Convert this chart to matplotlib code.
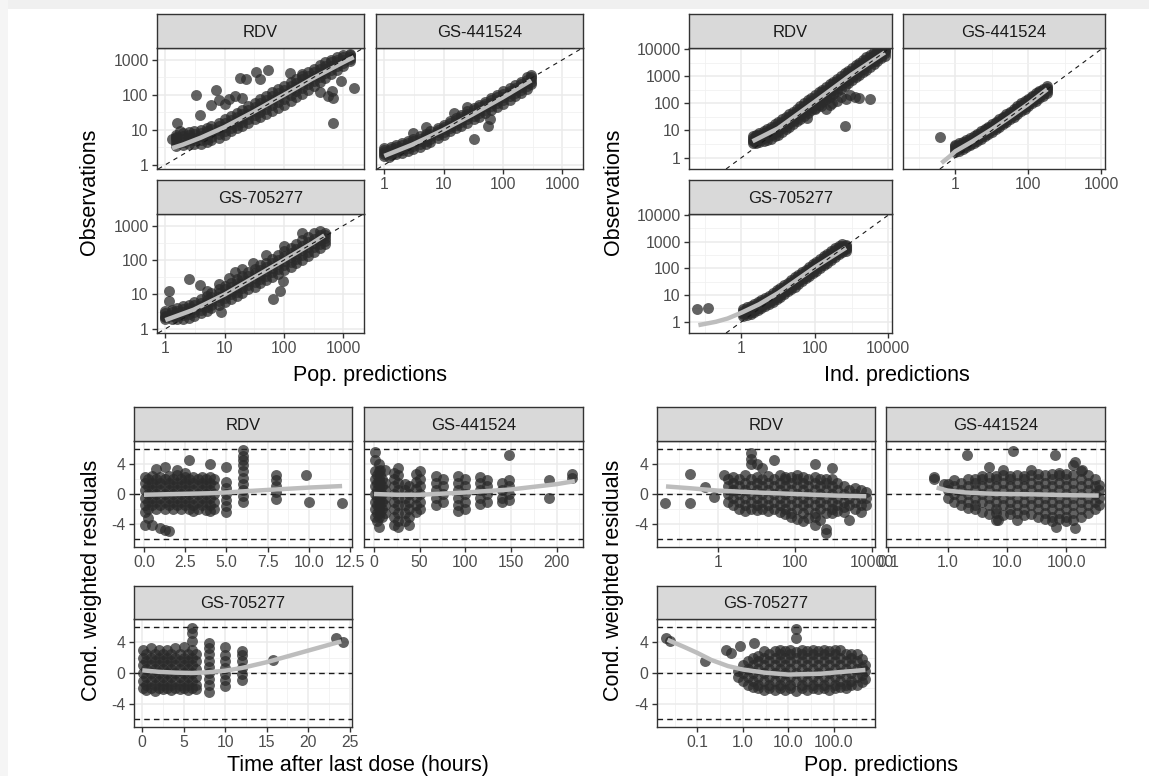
import matplotlib
matplotlib.use("Agg")
import matplotlib.pyplot as plt
from matplotlib.ticker import NullFormatter
from matplotlib.patches import Rectangle

plt.rcParams['font.family'] = ['Liberation Sans', 'DejaVu Sans']

# ---------------- facet titles / axis titles ----------------
facets = ["RDV", "GS-441524", "GS-705277"]
title_obs = "Observations"
title_cwres = "Cond. weighted residuals"
title_pred = "Pop. predictions"
title_ipred = "Ind. predictions"
title_time = "Time after last dose (hours)"

# ---------------- top-left: Observations vs Pop. predictions ----------------
A1_x = [1.5, 2, 2.5, 3, 4, 5, 6, 8, 10, 13, 16, 20, 25, 32, 40, 50, 63, 80, 100, 130, 160, 200, 250, 320, 400, 500, 630, 800, 1000, 1300]
A1_lo = [3.5, 3.8, 4, 4, 4, 4.5, 5, 6, 7, 9, 11, 13, 16, 20, 24, 28, 34, 42, 52, 66, 85, 105, 140, 180, 240, 310, 400, 500, 650, 900]
A1_q1 = [4.2, 4.5, 5, 5, 5, 5.6, 6.4, 7.8, 9.2, 11.5, 14, 17, 21, 26, 33, 40, 50, 62, 78, 100, 125, 160, 200, 250, 320, 410, 520, 650, 800, 1050]
A1_mid = [5, 5.5, 6, 6, 6.5, 7, 8, 10, 12, 15, 18, 22, 28, 35, 44, 55, 70, 85, 105, 135, 165, 210, 270, 340, 430, 540, 680, 850, 1000, 1200]
A1_q3 = [6, 6.7, 7.2, 7.5, 8, 9, 10.5, 13, 15.5, 19.5, 23, 29, 37, 46, 58, 72, 92, 112, 140, 175, 215, 275, 350, 440, 550, 680, 850, 1000, 1200, 1350]
A1_hi = [7, 8, 8.5, 9, 10, 11, 13, 16, 20, 25, 30, 38, 48, 60, 75, 95, 120, 150, 180, 230, 280, 350, 440, 550, 700, 850, 1000, 1200, 1400, 1500]
A1_ox = [1.3, 1.5, 1.6, 1.8, 3.3, 3.8, 6, 7.2, 8, 10, 12, 15, 20, 18, 23, 34, 40, 54, 126, 200, 400, 550, 680, 680, 1500, 650, 900]
A1_oy = [5.5, 6.4, 15.5, 9, 100, 27, 50, 140, 70, 55, 75, 90, 80, 300, 280, 460, 280, 500, 415, 400, 120, 90, 80, 15.5, 155, 130, 250]
A1_fx = [1.3, 2, 4, 10, 30, 100, 300, 1000, 1500]
A1_fy = [3, 3.8, 6, 12, 32, 100, 290, 850, 1200]

A2_x = [1, 1.3, 1.6, 2, 2.5, 3, 4, 5, 6, 8, 10, 13, 16, 20, 25, 32, 40, 50, 63, 80, 100, 130, 160, 200, 250, 300]
A2_lo = [1.8, 1.9, 2, 2.2, 2.5, 2.8, 3.3, 4, 4.6, 5.8, 7, 9, 11, 13, 16, 20, 24, 30, 37, 45, 55, 70, 90, 110, 150, 200]
A2_q1 = [2.05, 2.2, 2.4, 2.6, 3, 3.4, 4, 4.8, 5.6, 7.1, 8.6, 11, 13.5, 16.5, 20, 25, 31, 38, 47, 58, 70, 90, 112, 140, 185, 240]
A2_mid = [2.3, 2.5, 2.8, 3.1, 3.6, 4, 4.8, 5.8, 6.8, 8.5, 10.5, 13, 16, 20, 25, 31, 38, 47, 58, 72, 88, 110, 135, 170, 220, 280]
A2_q3 = [2.6, 2.9, 3.2, 3.6, 4.2, 4.7, 5.6, 6.7, 7.8, 10, 12, 15.5, 19, 23.5, 29, 36, 45, 55, 69, 86, 105, 130, 160, 205, 270, 330]
A2_hi = [3, 3.3, 3.6, 4.1, 4.8, 5.5, 6.5, 7.8, 9, 11.5, 14, 18, 22, 27, 34, 42, 52, 64, 80, 100, 125, 155, 190, 240, 320, 380]
A2_ox = [32, 57, 15, 25, 5, 3, 1.2, 60]
A2_oy = [5.4, 12.5, 30, 45, 12, 8, 1.7, 20]
A2_fx = [1, 3, 10, 30, 100, 300]
A2_fy = [1.8, 3.8, 10, 27, 85, 260]

A3_x = [1, 1.3, 1.6, 2, 2.5, 3, 4, 5, 6, 8, 10, 13, 16, 20, 25, 32, 40, 50, 63, 80, 100, 130, 160, 200, 250, 320, 400, 500]
A3_lo = [1.9, 2, 2, 2, 2.1, 2.3, 2.8, 3.3, 4, 5, 6, 7.5, 9, 11, 14, 17, 21, 26, 33, 40, 50, 65, 80, 100, 130, 170, 230, 300]
A3_q1 = [2.15, 2.3, 2.4, 2.5, 2.7, 3, 3.5, 4.3, 5.1, 6.5, 8, 10, 12, 15, 19, 23, 28, 35, 44, 55, 70, 88, 110, 140, 175, 235, 300, 370]
A3_mid = [2.4, 2.6, 2.8, 3, 3.4, 3.8, 4.5, 5.5, 6.5, 8.5, 10.5, 13, 16, 20, 25, 31, 38, 48, 60, 75, 95, 120, 150, 190, 240, 310, 380, 450]
A3_q3 = [2.8, 3.1, 3.4, 3.7, 4.1, 4.8, 5.8, 7, 8.5, 11, 14, 17, 21, 27, 34, 42, 52, 65, 82, 102, 130, 165, 210, 265, 340, 420, 520, 520]
A3_hi = [3.2, 3.6, 4, 4.5, 5, 6, 7.5, 9, 11, 14, 18, 22, 28, 35, 45, 55, 70, 85, 110, 140, 180, 230, 300, 380, 480, 600, 700, 600]
A3_ox = [1.17, 1.17, 2.55, 3.8, 66, 85, 98, 8.8, 5, 15, 8, 12, 20, 30, 50, 100, 200]
A3_oy = [12.4, 6.4, 28, 19, 7.2, 12.5, 24, 3, 13, 45, 20, 30, 55, 80, 140, 260, 600]
A3_fx = [1, 3, 10, 30, 100, 300, 480]
A3_fy = [1.8, 3.6, 10, 30, 100, 310, 520]

# ---------------- top-right: Observations vs Ind. predictions ----------------
B1_x = [2, 2.5, 3, 4, 5, 6.5, 8, 10, 13, 16, 20, 25, 32, 40, 50, 65, 80, 100, 130, 160, 200, 250, 320, 400, 500, 650, 800, 1000, 1300, 1600, 2000, 2500, 3200, 4000, 5000, 6500, 8000]
B1_lo = [3.5, 3.5, 3.8, 4, 4.5, 5, 6, 7, 9, 11, 14, 17, 22, 27, 34, 44, 55, 65, 90, 110, 140, 170, 220, 280, 350, 450, 550, 700, 900, 1100, 1400, 1700, 2200, 2800, 3500, 4500, 5500]
B1_q1 = [4, 4.2, 4.6, 5.1, 5.8, 6.7, 8.1, 9.5, 12, 15, 19, 23, 30, 37, 46, 60, 74, 88, 120, 150, 190, 230, 300, 375, 470, 600, 740, 920, 1200, 1500, 1900, 2300, 3000, 3700, 4700, 5800, 7000]
B1_mid = [4.5, 5, 5.5, 6.5, 7.5, 9, 11, 13, 16, 20, 25, 31, 40, 50, 62, 80, 100, 120, 160, 200, 250, 310, 400, 500, 620, 800, 1000, 1200, 1600, 2000, 2500, 3100, 4000, 5000, 6200, 7500, 8500]
B1_q3 = [5.2, 6, 6.7, 7.9, 9.1, 11.2, 13.7, 16, 20, 25, 32, 39, 50, 63, 79, 102, 127, 155, 205, 255, 320, 395, 500, 640, 790, 1020, 1270, 1550, 2050, 2550, 3200, 4000, 5000, 6200, 7500, 8700, 9300]
B1_hi = [6, 7, 8, 9.5, 11, 14, 17, 20, 26, 32, 40, 50, 63, 80, 100, 130, 160, 200, 260, 320, 400, 500, 630, 800, 1000, 1300, 1600, 2000, 2600, 3200, 4000, 5000, 6300, 7500, 9000, 10000, 10000]
B1_ox = [100, 150, 200, 300, 400, 500, 700, 900, 1200, 680, 1600, 3100, 250, 60]
B1_oy = [60, 80, 60, 100, 120, 170, 150, 200, 170, 14.5, 154, 140, 90, 30]
B1_fx = [2, 10, 100, 1000, 8000]
B1_fy = [4, 12, 115, 1150, 7500]

B2_x = [1, 1.3, 1.6, 2, 2.5, 3.2, 4, 5, 6.5, 8, 10, 13, 16, 20, 25, 32, 40, 50, 65, 80, 100, 130, 160, 200, 250, 320]
B2_lo = [1.6, 1.8, 2.1, 2.4, 2.8, 3.4, 4.2, 5, 6.2, 7.5, 9, 11, 14, 17, 21, 26, 32, 40, 52, 63, 78, 100, 125, 155, 190, 250]
B2_q1 = [1.9, 2.1, 2.4, 2.8, 3.3, 4, 4.9, 5.8, 7.3, 8.7, 10.6, 13.3, 16.3, 20, 25, 31, 38.5, 48, 62, 75, 94, 120, 150, 185, 230, 290]
B2_mid = [2.2, 2.5, 2.8, 3.2, 3.8, 4.6, 5.6, 6.8, 8.5, 10, 12.5, 16, 19, 24, 30, 38, 46, 57, 74, 90, 112, 145, 180, 220, 270, 340]
B2_q3 = [2.6, 2.9, 3.3, 3.8, 4.5, 5.4, 6.6, 8, 10, 12, 14.6, 18.5, 22.5, 28, 35, 44, 54, 67, 87, 106, 131, 167, 207, 255, 310, 380]
B2_hi = [3, 3.4, 3.8, 4.4, 5.2, 6.3, 7.6, 9.2, 11.5, 14, 17, 21, 26, 32, 40, 50, 62, 78, 100, 122, 150, 190, 235, 290, 350, 420]
B2_ox = [0.38]
B2_oy = [5.8]
B2_fx = [0.42, 0.7, 1, 3, 10, 30, 100, 330]
B2_fy = [0.63, 1.1, 1.7, 4, 11, 30, 95, 330]

B3_x = [1.1, 1.4, 1.8, 2.2, 2.8, 3.5, 4.5, 5.6, 7, 9, 11, 14, 18, 22, 28, 35, 45, 56, 70, 90, 110, 140, 180, 220, 280, 350, 450, 560, 700]
B3_lo = [1.6, 1.8, 2, 2.3, 2.7, 3.2, 3.8, 4.5, 5.5, 7, 8.5, 11, 14, 17, 21, 26, 33, 42, 52, 66, 82, 105, 135, 165, 210, 270, 340, 400, 450]
B3_q1 = [1.9, 2.1, 2.4, 2.7, 3.2, 3.8, 4.6, 5.5, 6.7, 8.6, 10.5, 13.3, 16.8, 21, 26, 33, 41, 52, 64, 82, 101, 128, 165, 200, 255, 330, 410, 480, 520]
B3_mid = [2.2, 2.5, 2.8, 3.2, 3.8, 4.5, 5.5, 6.7, 8.2, 10.5, 13, 16, 20, 25, 32, 40, 50, 63, 78, 100, 123, 155, 200, 245, 310, 390, 480, 560, 600]
B3_q3 = [2.6, 3, 3.4, 3.9, 4.6, 5.4, 6.6, 8, 10, 12.7, 15.5, 19.3, 24, 30, 38, 48, 60, 75, 94, 120, 150, 188, 240, 300, 380, 480, 590, 680, 680]
B3_hi = [3.1, 3.5, 4, 4.6, 5.4, 6.4, 7.8, 9.5, 12, 15, 18.5, 23, 29, 36, 46, 57, 72, 90, 112, 145, 180, 225, 290, 360, 450, 570, 700, 800, 750]
B3_ox = [0.06, 0.12]
B3_oy = [2.9, 3.3]
B3_fx = [0.067, 0.2, 0.42, 1, 3, 10, 100, 700]
B3_fy = [0.75, 1.0, 1.33, 2.2, 4.5, 12, 110, 600]

# ---------------- bottom-left: CWRES vs time ----------------
C1_t = [0.05, 0.25, 0.5, 0.75, 1.0, 1.25, 1.5, 1.75, 2.0, 2.25, 2.5, 2.75, 3.0, 3.25, 3.5, 3.75, 4.0, 4.25, 5.0, 6.0, 8.0, 9.8, 10.0, 12.0]
C1_r = [
    [-4.1, -2.4, -1.5, -0.5, 0.5, 1.5, 2.2],
    [-3.2, -2, -1, 0, 1, 2],
    [-4.1, -1.5, -0.5, 0.5, 1.5, 2.4],
    [-2, -1, 0, 1, 2, 3.3],
    [-4.5, -1.5, -0.5, 0.5, 1.5, 2.3],
    [-4.7, -2, -1, 0, 1, 2, 3.6],
    [-4.9, -1.5, -0.5, 0.5, 1.5, 2.4],
    [-2, -1, 0, 1, 2],
    [-1.5, -0.5, 0.5, 1.5, 2.5, 3.2],
    [-2, -1, 0, 1, 2],
    [-1.5, -0.5, 0.5, 1.5, 2.3, 2.8],
    [-2, -1, 0, 1, 2, 4.5],
    [-2.2, -1.5, -0.5, 0.5, 1.5, 2.3],
    [-2, -1, 0, 1, 2],
    [-1.5, -0.5, 0.5, 1.5, 2.2],
    [-2.1, -1, 0, 1, 2],
    [-2.3, -1.5, -0.5, 0.5, 1.5, 2.2, 3.9],
    [-2, -1, 0, 1, 2],
    [-2.4, -1.6, -0.8, 0, 0.8, 1.6, 3.6],
    [-1.1, -0.3, 0.5, 1.3, 2.1, 3.0, 3.8, 4.5, 5.0, 5.8],
    [-0.6, 0.2, 1.0, 1.8, 2.5],
    [2.5],
    [-1.1],
    [-1.2],
]
C1_fx = [0, 1, 2, 3, 4, 5, 6, 8, 10, 12]
C1_fy = [-0.1, -0.05, 0, 0.05, 0.1, 0.2, 0.35, 0.6, 0.85, 1.05]

C2_t = [1, 3, 5, 7, 9, 12, 22, 26, 34, 38, 46, 50, 68, 76, 92, 100, 116, 124, 140, 148, 192, 217]
C2_r = [
    [-3, -2, -1, 0, 1, 2, 3, 4.5, 5.5],
    [-3.5, -2.5, -1.5, -0.5, 0.5, 1.5, 2.5],
    [-4.3, -3, -2, -1, 0, 1, 2, 3, 4],
    [-2.5, -1.5, -0.5, 0.5, 1.5, 2.5, 3.2],
    [-3, -2, -1, 0, 1, 2],
    [-2.5, -1.5, -0.5, 0.5, 1.5, 3.2],
    [-4.1, -3, -2, -1, 0, 1, 2, 2.8],
    [-4.3, -3.5, -2.5, -1.5, -0.5, 0.5, 1.5, 2.5, 3.4],
    [-3.5, -2.5, -1.5, -0.5, 0.5, 1.3],
    [-4.1, -3, -2, -1, 0, 1],
    [-2.4, -1.4, -0.4, 0.6, 1.6, 2.6],
    [-2, -1, 0, 1, 2, 3],
    [-1.5, -0.5, 0.5, 1.5, 2.4],
    [-1, 0, 1, 2],
    [-2.2, -1.5, -0.5, 0.5, 1.5, 2.4],
    [-2, -1, 0, 1, 2],
    [-1.3, -0.5, 0.5, 1.5, 2.2],
    [-1, 0, 1, 1.9],
    [-1.1, -0.5, 0.5, 1.5],
    [-0.8, 0, 1, 1.9, 5.2],
    [-0.5, 1.8],
    [2.6, 2.1],
]
C2_fx = [0, 25, 50, 100, 150, 200, 220]
C2_fy = [0, -0.1, -0.1, 0.2, 0.6, 1.3, 1.7]

C3_t = [0.1, 0.5, 1, 1.5, 2, 2.5, 3, 3.5, 4, 4.5, 5, 5.5, 6, 6.5, 8, 10, 12, 15.8, 23.4, 24.2]
C3_r = [
    [-2, -1, 0, 1, 2, 3],
    [-2.2, -1.5, -0.5, 0.5, 1.5, 2.5],
    [-2, -1, 0, 1, 2, 3.2],
    [-2.3, -1.5, -0.5, 0.5, 1.5, 2.5],
    [-2, -1, 0, 1, 2, 3],
    [-2.1, -1.5, -0.5, 0.5, 1.5, 2.5],
    [-2, -1, 0, 1, 2, 3],
    [-2.2, -1.5, -0.5, 0.5, 1.5, 2.5],
    [-2, -1, 0, 1, 2, 3.2],
    [-2.1, -1.5, -0.5, 0.5, 1.5, 2.5],
    [-2, -1, 0, 1, 2, 3.4],
    [-2.2, -1.5, -0.5, 0.5, 1.5, 2.5],
    [-2, -1, 0, 1, 2, 3, 4.1, 5.2, 5.8],
    [-2.1, -1.5, -0.5, 0.5, 1.5, 2.5],
    [-2.4, -1.6, -0.8, 0, 0.8, 1.6, 2.4, 3.2, 3.9],
    [-1.7, -0.9, -0.1, 0.7, 1.5, 2.3, 3.4],
    [-0.9, -0.1, 0.7, 1.5, 2.3, 2.8],
    [1.7],
    [4.5],
    [4.0],
]
C3_fx = [0, 2, 4, 6, 8, 10, 12, 15, 20, 24]
C3_fy = [0.35, 0.15, 0.05, 0, 0.1, 0.3, 0.65, 1.4, 2.9, 4.1]

# ---------------- bottom-right: CWRES vs Pop. predictions ----------------
D1_x = [1.8, 2.5, 3.5, 5, 7, 10, 14, 20, 28, 40, 56, 80, 110, 160, 220, 320, 450, 630, 900, 1250, 1800, 2500, 3500, 5000, 7000]
D1_r = [
    [-1, 0, 1, 2],
    [-1.5, -0.5, 0.5, 1.5, 2.2],
    [-2, -1, 0, 1, 2],
    [-2.2, -1.5, -0.5, 0.5, 1.5, 2.5],
    [-2, -1, 0, 1, 2, 3.9, 4.6, 5.4],
    [-2.1, -1.5, -0.5, 0.5, 1.5, 2.3, 3.9],
    [-2, -1, 0, 1, 2, 3.4],
    [-2.2, -1.5, -0.5, 0.5, 1.5, 2.4],
    [-2, -1, 0, 1, 2, 4.5],
    [-2.4, -1.5, -0.5, 0.5, 1.5, 2.5],
    [-2.6, -2, -1, 0, 1, 2, 2.3],
    [-3, -2.5, -1.5, -0.5, 0.5, 1.5, 2.2],
    [-3.3, -2, -1, 0, 1, 2, 2.5],
    [-3.5, -2.5, -1.5, -0.5, 0.5, 1.5, 2.3],
    [-3.2, -2, -1, 0, 1, 2],
    [-4.1, -3, -2.5, -1.5, -0.5, 0.5, 1.5, 2.2, 3.9],
    [-3.4, -2, -1, 0, 1, 2],
    [-5.2, -4.6, -2.5, -1.5, -0.5, 0.5, 1.5, 2],
    [-2.5, -2, -1, 0, 1, 2, 3.4],
    [-2.2, -1.5, -0.5, 0.5, 1.5],
    [-2.4, -1.7, -1, 0, 1],
    [-3.4, -1.5, -0.5, 0.5],
    [-2, -1, 0, 0.8],
    [-2.4, -1.5, -0.5, 0.5],
    [-1.5, -0.5, 0.3],
]
D1_ox = [0.042, 0.19, 0.19, 0.47, 0.78, 1.45]
D1_oy = [-1.16, 2.58, -1.16, 0.86, -0.43, 2.45]
D1_fx = [0.045, 0.2, 1, 10, 100, 1000, 7000]
D1_fy = [1.0, 0.75, 0.45, 0.2, 0.0, -0.2, -0.3]

D2_x = [1.0, 1.3, 1.7, 2.2, 2.9, 3.8, 5, 6.5, 8.5, 11, 14.5, 19, 25, 33, 44, 58, 76, 100, 130, 175, 230, 300, 350]
D2_r = [
    [-0.5, 0.5, 1.3],
    [-1, 0, 1, 1.8],
    [-1.5, -0.5, 0.5, 1.5],
    [-1.8, -1, 0, 1, 2.0],
    [-2, -1.5, -0.5, 0.5, 1.5, 2],
    [-2.4, -1, 0, 1, 2, 2.4],
    [-2.6, -1.5, -0.5, 0.5, 1.5, 2.3, 3.6],
    [-3.4, -2.5, -2, -1, 0, 1, 2, 2.4],
    [-2.8, -1.5, -0.5, 0.5, 1.5, 2.5, 3.2],
    [-2.6, -2, -1, 0, 1, 2, 2.4],
    [-3.4, -2.5, -1.5, -0.5, 0.5, 1.5, 2.5],
    [-2.8, -2, -1, 0, 1, 2, 2.4],
    [-2.6, -1.5, -0.5, 0.5, 1.5, 2.5, 3.2],
    [-3, -2, -1, 0, 1, 2, 2.7],
    [-3.3, -2.5, -1.5, -0.5, 0.5, 1.5, 2.5],
    [-3.5, -3, -2, -1, 0, 1, 2, 2.7],
    [-3.3, -2.5, -1.5, -0.5, 0.5, 1.5, 2.5, 2.8],
    [-3.6, -3, -2, -1, 0, 1, 2, 2.6],
    [-3.4, -2.5, -1.5, -0.5, 0.5, 1.5, 2.5, 3.8],
    [-3, -2, -1, 0, 1, 2, 3],
    [-2.5, -1.5, -0.5, 0.5, 1.5, 2.5],
    [-2, -1, 0, 1, 2],
    [-1.5, -0.5, 0.5, 1.2],
]
D2_ox = [0.59, 0.59, 0.88, 2.1, 12.6, 63, 140, 183, 67, 140, 6.9]
D2_oy = [2.3, 2.0, 1.3, 5.2, 5.7, 5.2, 4.2, 3.2, -4.3, -4.5, -3.4]
D2_fx = [0.65, 1, 2, 5, 10, 30, 100, 300, 350]
D2_fy = [0.85, 0.45, 0.2, 0.05, 0, -0.05, -0.15, -0.2, -0.2]

D3_x = [0.8, 1.0, 1.3, 1.7, 2.2, 2.9, 3.8, 5, 6.5, 8.5, 11, 15, 20, 26, 35, 46, 60, 80, 105, 140, 185, 245, 320, 420, 500]
D3_r = [
    [-0.5, 0.3],
    [-1, 0, 1],
    [-1.5, -0.5, 0.5, 1.5],
    [-1.8, -1, 0, 1, 2],
    [-2, -1.5, -0.5, 0.5, 1.5, 2.2],
    [-2.2, -1, 0, 1, 2, 2.8],
    [-2, -1.5, -0.5, 0.5, 1.5, 2.5],
    [-2.2, -1, 0, 1, 2, 2.8],
    [-2, -1.5, -0.5, 0.5, 1.5, 2.5, 3],
    [-2.2, -1, 0, 1, 2, 2.8],
    [-2, -1.5, -0.5, 0.5, 1.5, 2.5, 3],
    [-2.3, -1, 0, 1, 2, 2.7, 4.5, 5.7],
    [-2, -1.5, -0.5, 0.5, 1.5, 2.5, 3],
    [-2.2, -1, 0, 1, 2, 2.8],
    [-2, -1.5, -0.5, 0.5, 1.5, 2.5, 3],
    [-2.1, -1, 0, 1, 2, 2.9],
    [-2, -1.5, -0.5, 0.5, 1.5, 2.5, 3],
    [-2.2, -1, 0, 1, 2, 2.8],
    [-2, -1.5, -0.5, 0.5, 1.5, 2.5, 3],
    [-1.8, -1, 0, 1, 2, 3],
    [-2, -1.5, -0.5, 0.5, 1.5, 2.5],
    [-1.6, -1, 0, 1, 2, 2.4],
    [-1.5, -0.5, 0.5, 1.5, 2.5],
    [-1.2, -0.2, 0.8, 1.8],
    [-0.8, 0.2, 1.0],
]
D3_ox = [0.02, 0.025, 0.15, 0.43, 0.56, 0.87, 1.75]
D3_oy = [4.5, 4.2, 1.5, 3.0, 2.6, 3.5, 3.9]
D3_fx = [0.022, 0.05, 0.1, 0.2, 0.47, 1, 3, 10, 50, 200, 500]
D3_fy = [4.3, 3.4, 2.6, 1.7, 0.9, 0.45, 0.05, -0.2, -0.1, 0.2, 0.4]

# ---------------- tick breaks / labels ----------------
obs_ticks = [1, 10, 100, 1000]
obs_labels = ["1", "10", "100", "1000"]
obs_minor = [10 ** 0.5, 10 ** 1.5, 10 ** 2.5]
ind_xticks = [1, 100, 10000]
ind_xlabels = ["1", "100", "10000"]
ind_xlabels_gs441 = ["1", "100", "1000"]
ind_xminor = [0.1, 10, 1000]
ind_yticks = [1, 10, 100, 1000, 10000]
ind_ylabels = ["1", "10", "100", "1000", "10000"]
ind_yminor = [10 ** 0.5, 10 ** 1.5, 10 ** 2.5, 10 ** 3.5]
res_ticks = [-4, 0, 4]
res_labels = ["-4", "0", "4"]
res_minor = [-6, -2, 2, 6]
res_ref = [-6, 0, 6]
t1_ticks = [0, 2.5, 5, 7.5, 10, 12.5]
t1_labels = ["0.0", "2.5", "5.0", "7.5", "10.0", "12.5"]
t1_minor = [1.25, 3.75, 6.25, 8.75, 11.25]
t2_ticks = [0, 50, 100, 150, 200]
t2_labels = ["0", "50", "100", "150", "200"]
t2_minor = [25, 75, 125, 175, 225]
t3_ticks = [0, 5, 10, 15, 20, 25]
t3_labels = ["0", "5", "10", "15", "20", "25"]
t3_minor = [2.5, 7.5, 12.5, 17.5, 22.5]
p1_ticks = [1, 100, 10000]
p1_labels = ["1", "100", "10000"]
p1_minor = [0.1, 10, 1000]
p2_ticks = [0.1, 1, 10, 100]
p2_labels = ["0.1", "1.0", "10.0", "100.0"]
p2_minor = [10 ** -0.5, 10 ** 0.5, 10 ** 1.5, 10 ** 2.5]
p3_minor = [10 ** -1.5, 10 ** -0.5, 10 ** 0.5, 10 ** 1.5, 10 ** 2.5]

# ---------------- figure & layout (pixels) ----------------
W, H = 1149, 776
fig = plt.figure(figsize=(W / 100, H / 100), dpi=100)
fig.patch.set_facecolor("white")
fig.patches.append(Rectangle((0, 1 - 9 / H), 1, 9 / H, transform=fig.transFigure,
                             facecolor="#F0F0F0", edgecolor="none", zorder=0))
fig.patches.append(Rectangle((0, 0), 8 / W, 1, transform=fig.transFigure,
                             facecolor="#F5F5F5", edgecolor="none", zorder=0))

TICK_C = "#4D4D4D"
BORDER_C = "#333333"
PT = dict(s=62, c="#2b2b2b", alpha=0.74, linewidths=0, zorder=2)
FIT = dict(color="#BDBDBD", lw=3.2, solid_capstyle="butt", zorder=3)


def rect(x0, y0, x1, y1):
    return [x0 / W, 1 - y1 / H, (x1 - x0) / W, (y1 - y0) / H]


def panel(cols, rows, title, xlim, ylim, xlog, ylog, xt, xtl, xm, yt, ytl, ym, showx, showy):
    (sx0, sx1) = cols
    (st, sb), (pt, pb) = rows
    ax = fig.add_axes(rect(sx0, pt, sx1, pb))
    if xlog:
        ax.set_xscale("log")
    if ylog:
        ax.set_yscale("log")
    ax.set_xlim(xlim)
    ax.set_ylim(ylim)
    ax.set_xticks(xt)
    ax.set_xticks(xm, minor=True)
    ax.set_yticks(yt)
    ax.set_yticks(ym, minor=True)
    ax.xaxis.set_minor_formatter(NullFormatter())
    ax.yaxis.set_minor_formatter(NullFormatter())
    ax.grid(True, which="major", color="#EBEBEB", lw=1.1)
    ax.grid(True, which="minor", color="#F1F1F1", lw=0.6)
    ax.set_axisbelow(True)
    ax.tick_params(which="minor", length=0)
    ax.tick_params(which="major", direction="out", length=3.8, width=1.0, color=BORDER_C,
                   labelcolor=TICK_C, labelsize=11.3, pad=2.2)
    if showx:
        ax.set_xticklabels(xtl)
    else:
        ax.tick_params(axis="x", which="major", length=0, labelbottom=False)
    if showy:
        ax.set_yticklabels(ytl)
    else:
        ax.tick_params(axis="y", which="major", length=0, labelleft=False)
    for sp in ax.spines.values():
        sp.set_color(BORDER_C)
        sp.set_linewidth(1.0)
        sp.set_zorder(6)
    sax = fig.add_axes(rect(sx0, st, sx1, sb))
    sax.set_facecolor("#D9D9D9")
    sax.set_xticks([])
    sax.set_yticks([])
    for sp in sax.spines.values():
        sp.set_color(BORDER_C)
        sp.set_linewidth(1.0)
    sax.text(0.5, 0.47, title, ha="center", va="center", fontsize=12, color="#1A1A1A",
             transform=sax.transAxes)
    return ax


def band(ax, x, levels, ox, oy, fx, fy):
    xs, ys = [], []
    for lev in levels:
        xs += x
        ys += lev
    ax.scatter(xs, ys, **PT)
    ax.scatter(ox, oy, **PT)
    ax.plot(fx, fy, **FIT)
    ax.axline((1, 1), (10, 10), color="#1A1A1A", lw=0.8, ls=(0, (4, 4)), zorder=4)


def columns(ax, t, r, ox, oy, fx, fy):
    xs, ys = [], []
    for ti, ri in zip(t, r):
        xs += [ti] * len(ri)
        ys += ri
    for v in res_ref:
        ax.axhline(v, color="#1A1A1A", lw=1.0, ls=(0, (4, 3)), zorder=1.5)
    ax.scatter(xs, ys, **PT)
    if ox:
        ax.scatter(ox, oy, **PT)
    ax.plot(fx, fy, **FIT)


TLc = [(157, 364), (376, 583)]
TRc = [(689, 892), (903, 1105)]
BLc = [(134, 352), (364, 583)]
BRc = [(657, 875), (886, 1105)]
TOPr = [((14, 48), (48, 169)), ((180, 214), (214, 333))]
BOTr = [((407, 441), (441, 547)), ((586, 619), (619, 727))]

# top-left
xl = (10 ** -0.14, 10 ** 3.35)
yl = (10 ** -0.12, 10 ** 3.34)
ax = panel(TLc[0], TOPr[0], facets[0], xl, yl, True, True, obs_ticks, obs_labels, obs_minor,
           obs_ticks, obs_labels, obs_minor, False, True)
band(ax, A1_x, [A1_lo, A1_q1, A1_mid, A1_q3, A1_hi], A1_ox, A1_oy, A1_fx, A1_fy)
ax = panel(TLc[1], TOPr[0], facets[1], xl, yl, True, True, obs_ticks, obs_labels, obs_minor,
           obs_ticks, obs_labels, obs_minor, True, False)
band(ax, A2_x, [A2_lo, A2_q1, A2_mid, A2_q3, A2_hi], A2_ox, A2_oy, A2_fx, A2_fy)
ax = panel(TLc[0], TOPr[1], facets[2], xl, yl, True, True, obs_ticks, obs_labels, obs_minor,
           obs_ticks, obs_labels, obs_minor, True, True)
band(ax, A3_x, [A3_lo, A3_q1, A3_mid, A3_q3, A3_hi], A3_ox, A3_oy, A3_fx, A3_fy)

# top-right
xl = (10 ** -1.43, 10 ** 4.1)
yl = (10 ** -0.42, 10 ** 4.04)
ax = panel(TRc[0], TOPr[0], facets[0], xl, yl, True, True, ind_xticks, ind_xlabels, ind_xminor,
           ind_yticks, ind_ylabels, ind_yminor, False, True)
band(ax, B1_x, [B1_lo, B1_q1, B1_mid, B1_q3, B1_hi], B1_ox, B1_oy, B1_fx, B1_fy)
ax = panel(TRc[1], TOPr[0], facets[1], xl, yl, True, True, ind_xticks, ind_xlabels_gs441, ind_xminor,
           ind_yticks, ind_ylabels, ind_yminor, True, False)
band(ax, B2_x, [B2_lo, B2_q1, B2_mid, B2_q3, B2_hi], B2_ox, B2_oy, B2_fx, B2_fy)
ax = panel(TRc[0], TOPr[1], facets[2], xl, yl, True, True, ind_xticks, ind_xlabels, ind_xminor,
           ind_yticks, ind_ylabels, ind_yminor, True, True)
band(ax, B3_x, [B3_lo, B3_q1, B3_mid, B3_q3, B3_hi], B3_ox, B3_oy, B3_fx, B3_fy)

# bottom-left
yl = (-7, 7)
ax = panel(BLc[0], BOTr[0], facets[0], (-0.6, 12.6), yl, False, False, t1_ticks, t1_labels, t1_minor,
           res_ticks, res_labels, res_minor, True, True)
columns(ax, C1_t, C1_r, None, None, C1_fx, C1_fy)
ax = panel(BLc[1], BOTr[0], facets[1], (-11, 229), yl, False, False, t2_ticks, t2_labels, t2_minor,
           res_ticks, res_labels, res_minor, True, False)
columns(ax, C2_t, C2_r, None, None, C2_fx, C2_fy)
ax = panel(BLc[0], BOTr[1], facets[2], (-1.0, 25.3), yl, False, False, t3_ticks, t3_labels, t3_minor,
           res_ticks, res_labels, res_minor, True, True)
columns(ax, C3_t, C3_r, None, None, C3_fx, C3_fy)

# bottom-right
ax = panel(BRc[0], BOTr[0], facets[0], (10 ** -1.58, 10 ** 4.07), yl, True, False, p1_ticks, p1_labels,
           p1_minor, res_ticks, res_labels, res_minor, True, True)
columns(ax, D1_x, D1_r, D1_ox, D1_oy, D1_fx, D1_fy)
ax = panel(BRc[1], BOTr[0], facets[1], (10 ** -1.04, 10 ** 2.65), yl, True, False, p2_ticks, p2_labels,
           p2_minor, res_ticks, res_labels, res_minor, True, False)
columns(ax, D2_x, D2_r, D2_ox, D2_oy, D2_fx, D2_fy)
ax = panel(BRc[0], BOTr[1], facets[2], (10 ** -1.89, 10 ** 2.91), yl, True, False, p2_ticks, p2_labels,
           p3_minor, res_ticks, res_labels, res_minor, True, True)
columns(ax, D3_x, D3_r, D3_ox, D3_oy, D3_fx, D3_fy)

# axis titles
TS = 15.5


def ftext(x, y, s, rot=0):
    fig.text(x / W, 1 - y / H, s, ha="center", va="center", rotation=rot, fontsize=TS, color="black")


ftext(370, 375, title_pred)
ftext(897, 375, title_ipred)
ftext(358, 766, title_time)
ftext(881, 766, title_pred)
ftext(90, 192, title_obs, 90)
ftext(614, 192, title_obs, 90)
ftext(91, 580, title_cwres, 90)
ftext(614, 580, title_cwres, 90)

fig.savefig("out.png", dpi=100)
